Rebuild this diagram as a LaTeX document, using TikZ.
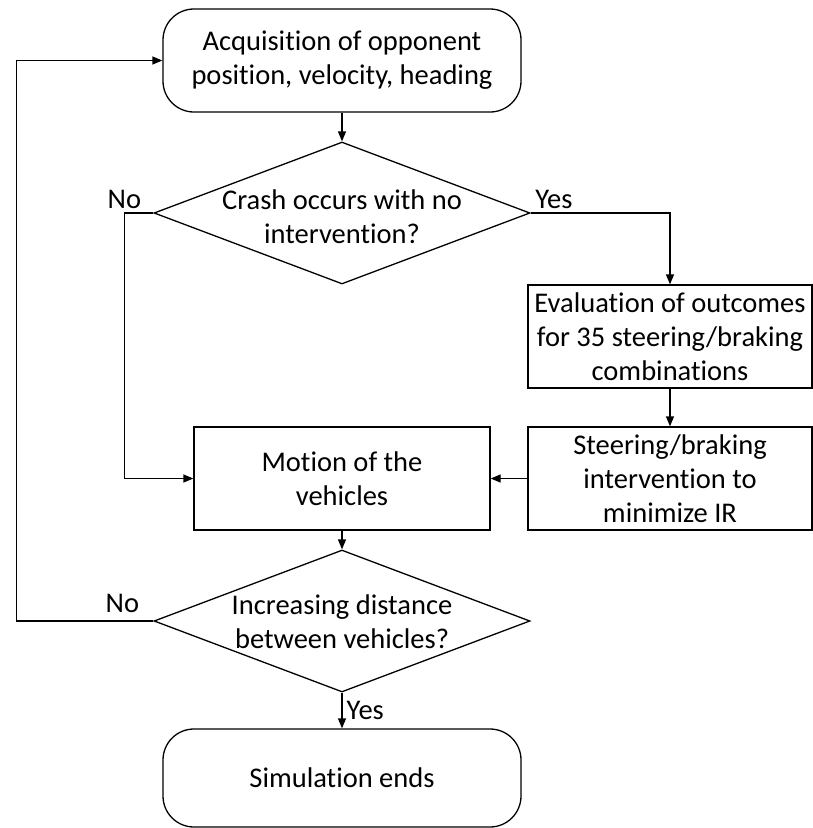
\documentclass[tikz,border=0pt]{standalone}
\usepackage{fontspec}
\setmainfont{Carlito}[Ligatures=NoCommon]
\usetikzlibrary{shapes.geometric,arrows.meta,positioning}
\tikzset{
  base/.style={draw=black,line width=1.3pt,align=center,font=\fontsize{28.5}{34}\selectfont,inner sep=0pt},
  terminal/.style={base,rounded corners=31pt,minimum width=358pt,minimum height=103pt},
  process/.style={base,minimum height=103pt},
  decision/.style={base,diamond,minimum width=376pt,minimum height=142pt},
  qtext/.style={font=\fontsize{28.5}{34}\selectfont,align=center},
  answer/.style={font=\fontsize{28.5}{34}\selectfont,inner sep=4pt},
  arrow/.style={-{Triangle[length=10pt,width=8pt]},line width=1.3pt}
}
\begin{document}
\begin{tikzpicture}[x=1pt,y=-1pt]
  \useasboundingbox (0,0) rectangle (813,828);
  % main column
  \node[terminal] (acquire) at (342,60.5) {Acquisition of opponent\\position, velocity, heading};
  \node[decision,label={[qtext,yshift=-4pt]center:{Crash occurs with no\\intervention?}}] (crash) at (342,213) {};
  \node[process,minimum width=296pt] (motion) at (342,478.5) {Motion of the\\vehicles};
  \node[decision,label={[qtext,yshift=-1pt]center:{Increasing distance\\between vehicles?}}] (increase) at (342,621) {};
  \node[terminal,minimum height=98pt] (finish) at (342,778) {Simulation ends};
  % intervention branch
  \node[process,minimum width=284pt] (evaluate) at (670,336.5) {Evaluation of outcomes\\for 35 steering/braking\\combinations};
  \node[process,minimum width=284pt] (steer) at (670,478.5) {Steering/braking\\intervention to\\minimize IR};

  \draw[arrow] (acquire) -- (crash);
  \draw[arrow] (crash.east) node[answer,above right]{Yes} -| (evaluate.north);
  \draw[arrow] (crash.west) -- ++(-29,0) node[answer,above]{No} |- (motion.west);
  \draw[arrow] (evaluate) -- (steer);
  \draw[arrow] (steer) -- (motion);
  \draw[arrow] (motion) -- (increase);
  \draw[arrow] (increase.west) -- node[answer,above,pos=0.226,yshift=4pt]{No} ++(-137,0) |- (acquire.west);
  \draw[arrow] (increase) -- node[answer,right]{Yes} (finish);
\end{tikzpicture}
\end{document}
